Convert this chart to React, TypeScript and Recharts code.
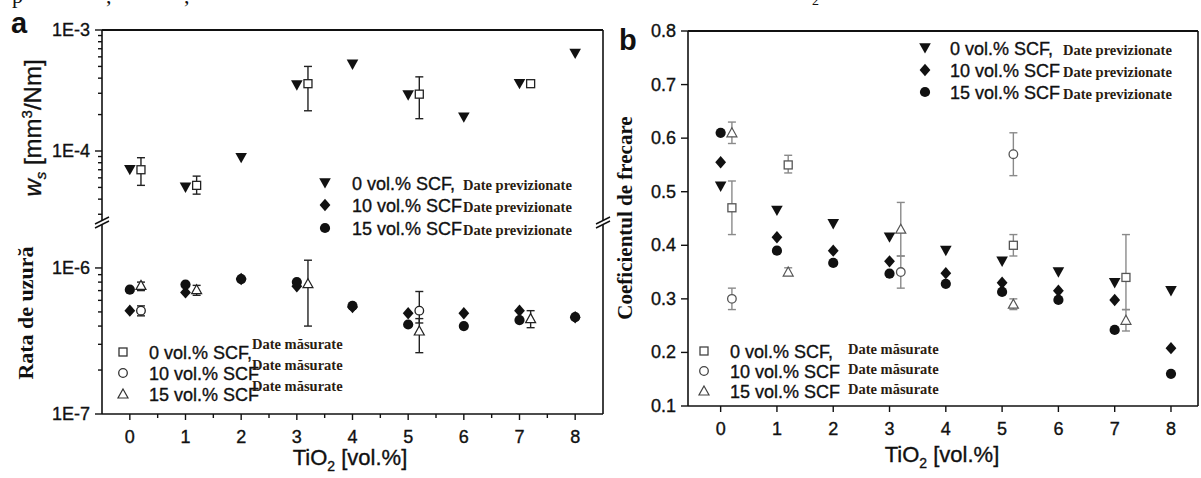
import React from 'react';
import { ScatterChart, Scatter, XAxis, YAxis, ErrorBar } from 'recharts';

const SANS = '"Liberation Sans", Arial, Helvetica, sans-serif';
const SERIF = '"Liberation Serif", "Times New Roman", serif';
const INK = '#111';

// ---------- data ----------
const tio2 = [0, 1, 2, 3, 4, 5, 6, 7, 8];

// panel a, upper part: specific wear rate ws (0 vol.% SCF)
const wsPred0 = [7.0e-5, 5.0e-5, 8.8e-5, 3.5e-4, 5.2e-4, 2.9e-4, 1.9e-4, 3.6e-4, 6.4e-4];
const wsMeasX0 = [0, 1, 3, 5, 7];
const wsMeas0 = [7.0e-5, 5.2e-5, 3.6e-4, 2.95e-4, 3.6e-4];
const wsMeas0Lo = [5.2e-5, 4.4e-5, 2.15e-4, 1.85e-4, null];
const wsMeas0Hi = [8.8e-5, 6.2e-5, 5.0e-4, 4.1e-4, null];

// panel a, lower part: wear rate (10 and 15 vol.% SCF)
const wrPred10 = [5.1e-7, 6.8e-7, 8.4e-7, 7.5e-7, 5.4e-7, 4.9e-7, 4.9e-7, 5.1e-7, 4.6e-7];
const wrPred15 = [7.1e-7, 7.7e-7, 8.4e-7, 8.0e-7, 5.5e-7, 4.1e-7, 4.0e-7, 4.4e-7, 4.6e-7];
const wrMeasX10 = [0, 5];
const wrMeas10 = [5.1e-7, 5.1e-7];
const wrMeas10Lo = [4.7e-7, 4.2e-7];
const wrMeas10Hi = [5.5e-7, 6.9e-7];
const wrMeasX15 = [0, 1, 3, 5, 7];
const wrMeas15 = [7.6e-7, 7.1e-7, 7.8e-7, 3.7e-7, 4.5e-7];
const wrMeas15Lo = [7.0e-7, 6.5e-7, 4.0e-7, 2.63e-7, 3.9e-7];
const wrMeas15Hi = [8.0e-7, 7.6e-7, 1.13e-6, 4.5e-7, 5.1e-7];

// panel b: coefficient of friction
const cofPred0 = [0.51, 0.465, 0.44, 0.415, 0.39, 0.37, 0.35, 0.33, 0.315];
const cofPred10 = [0.555, 0.415, 0.39, 0.37, 0.348, 0.33, 0.315, 0.298, 0.208];
const cofPred15 = [0.61, 0.39, 0.367, 0.347, 0.328, 0.313, 0.298, 0.242, 0.16];
const cofMeasX0 = [0, 1, 5, 7];
const cofMeas0 = [0.47, 0.55, 0.4, 0.34];
const cofMeas0Lo = [0.42, 0.535, 0.38, 0.28];
const cofMeas0Hi = [0.52, 0.568, 0.42, 0.42];
const cofMeasX10 = [0, 3, 5];
const cofMeas10 = [0.3, 0.35, 0.57];
const cofMeas10Lo = [0.28, 0.32, 0.53];
const cofMeas10Hi = [0.32, 0.38, 0.61];
const cofMeasX15 = [0, 1, 3, 5, 7];
const cofMeas15 = [0.61, 0.35, 0.43, 0.29, 0.26];
const cofMeas15Lo = [0.59, 0.345, 0.38, 0.28, 0.24];
const cofMeas15Hi = [0.63, 0.358, 0.48, 0.3, 0.28];

// axis ticks
const wsMajor = [1e-4, 1e-3];
const wsTicks = [3e-5, 4e-5, 5e-5, 6e-5, 7e-5, 8e-5, 9e-5, 1e-4, 2e-4, 3e-4, 4e-4, 5e-4, 6e-4, 7e-4, 8e-4, 9e-4, 1e-3];
const wrMajor = [1e-7, 1e-6];
const wrTicks = [1e-7, 2e-7, 3e-7, 4e-7, 5e-7, 6e-7, 7e-7, 8e-7, 9e-7, 1e-6];
const wsLabels: Record<string, string> = { '0.001': '1E-3', '0.0001': '1E-4' };
const wrLabels: Record<string, string> = { '1e-7': '1E-7', '0.000001': '1E-6' };
const xTicksA = [0, 0.5, 1, 1.5, 2, 2.5, 3, 3.5, 4, 4.5, 5, 5.5, 6, 6.5, 7, 7.5, 8];
const cofTicks = [0.1, 0.2, 0.3, 0.4, 0.5, 0.6, 0.7, 0.8];

const MEAS_SHIFT = 0.2;

type Pt = { x: number; y: number; err?: [number, number] };
const pts = (xs: number[], ys: number[]): Pt[] => xs.map((x, i) => ({ x, y: ys[i] }));
const meas = (xs: number[], ys: number[], lo: (number | null)[], hi: (number | null)[]): Pt[] =>
  xs.map((x, i) => {
    const l = lo[i];
    const h = hi[i];
    const p: Pt = { x: x + MEAS_SHIFT, y: ys[i] };
    if (l != null && h != null) p.err = [ys[i] - l, h - ys[i]];
    return p;
  });

// ---------- markers ----------
function Mark({ kind, cx, cy, stroke = '#222' }: { kind: string; cx: number; cy: number; stroke?: string }) {
  if (cx == null || cy == null || isNaN(cx) || isNaN(cy)) return null;
  switch (kind) {
    case 'tri':
      return <polygon points={`${cx - 5.8},${cy - 4.8} ${cx + 5.8},${cy - 4.8} ${cx},${cy + 5.6}`} fill={INK} />;
    case 'dia':
      return <polygon points={`${cx},${cy - 6.2} ${cx + 5.4},${cy} ${cx},${cy + 6.2} ${cx - 5.4},${cy}`} fill={INK} />;
    case 'dot':
      return <circle cx={cx} cy={cy} r={5.1} fill={INK} />;
    case 'sq':
      return <rect x={cx - 4} y={cy - 4} width={8} height={8} fill="#fff" stroke={stroke} strokeWidth={1.3} />;
    case 'circ':
      return <circle cx={cx} cy={cy} r={4.3} fill="#fff" stroke={stroke} strokeWidth={1.3} />;
    case 'tup':
      return <polygon points={`${cx},${cy - 5} ${cx + 5},${cy + 4} ${cx - 5},${cy + 4}`} fill="#fff" stroke={stroke} strokeWidth={1.2} />;
    default:
      return null;
  }
}
const shape = (kind: string, stroke?: string) => (p: any) => <Mark kind={kind} cx={p.cx} cy={p.cy} stroke={stroke} />;

// ---------- ticks ----------
const heavy = { stroke: INK, strokeWidth: 0.35 };
const logTick = (major: number[], labels: Record<string, string>) => (p: any) => {
  const v = p.payload.value;
  const isMajor = major.some((m) => Math.abs(m - v) / m < 1e-6);
  const lab = isMajor ? labels[String(v)] ?? v.toExponential(0).toUpperCase() : '';
  return (
    <g>
      <line x1={p.x - (isMajor ? 7 : 4)} x2={p.x} y1={p.y} y2={p.y} stroke={INK} strokeWidth={1.4} />
      {isMajor && (
        <text x={p.x - 12} y={p.y + 6} textAnchor="end" fontFamily={SANS} fontSize={18} fill={INK} {...heavy}>
          {lab}
        </text>
      )}
    </g>
  );
};
const linTick = (p: any) => (
  <g>
    <line x1={p.x - 7} x2={p.x} y1={p.y} y2={p.y} stroke={INK} strokeWidth={1.4} />
    <text x={p.x - 12} y={p.y + 6} textAnchor="end" fontFamily={SANS} fontSize={18} fill={INK} {...heavy}>
      {Number(p.payload.value).toFixed(1)}
    </text>
  </g>
);
const xTick = (p: any) => {
  const v = p.payload.value;
  const isMajor = Math.abs(v - Math.round(v)) < 1e-6;
  return (
    <g>
      <line x1={p.x} x2={p.x} y1={p.y} y2={p.y + (isMajor ? 6 : 4)} stroke={INK} strokeWidth={1.4} />
      {isMajor && (
        <text x={p.x} y={p.y + 29} textAnchor="middle" fontFamily={SANS} fontSize={18} fill={INK} {...heavy}>
          {v}
        </text>
      )}
    </g>
  );
};

// ---------- legend ----------
function LegendRow({ kind, mx, tx, dx, cy, label, note, noteDy, mainSize = 18, noteSize = 14.5, stroke }: any) {
  return (
    <g>
      <Mark kind={kind} cx={mx} cy={cy} stroke={stroke} />
      <text x={tx} y={cy + 6.5} fontFamily={SANS} fontSize={mainSize} fill={INK} {...heavy}>
        {label}
      </text>
      <text x={dx} y={cy + noteDy} fontFamily={SERIF} fontWeight="bold" fontSize={noteSize} fill="#2a1c10">
        {note}
      </text>
    </g>
  );
}

const BreakMark = ({ x, y }: { x: number; y: number }) => (
  <g stroke={INK} strokeWidth={1.4}>
    <line x1={x - 7} y1={y + 2} x2={x + 7} y2={y - 5} />
    <line x1={x - 7} y1={y + 6} x2={x + 7} y2={y - 1} />
  </g>
);

const axisLine = { stroke: INK, strokeWidth: 1.6 };

export default function App() {
  const aTopPred0 = pts(tio2, wsPred0);
  const aTopMeas0 = meas(wsMeasX0, wsMeas0, wsMeas0Lo, wsMeas0Hi);
  const aBotPred10 = pts(tio2, wrPred10);
  const aBotPred15 = pts(tio2, wrPred15);
  const aBotMeas10 = meas(wrMeasX10, wrMeas10, wrMeas10Lo, wrMeas10Hi);
  const aBotMeas15 = meas(wrMeasX15, wrMeas15, wrMeas15Lo, wrMeas15Hi);
  const bPred0 = pts(tio2, cofPred0);
  const bPred10 = pts(tio2, cofPred10);
  const bPred15 = pts(tio2, cofPred15);
  const bMeas0 = meas(cofMeasX0, cofMeas0, cofMeas0Lo, cofMeas0Hi);
  const bMeas10 = meas(cofMeasX10, cofMeas10, cofMeas10Lo, cofMeas10Hi);
  const bMeas15 = meas(cofMeasX15, cofMeas15, cofMeas15Lo, cofMeas15Hi);

  const greyEB = '#8a8a8a';
  const greyMk = '#555';

  return (
    <div style={{ position: 'fixed', left: 0, top: 0, width: 1201, height: 478, background: '#fff', overflow: 'hidden' }}>
      {/* panel a, upper part */}
      <div style={{ position: 'absolute', left: 0, top: 0 }}>
        <ScatterChart width={620} height={220} margin={{ top: 30, right: 17, bottom: 0, left: 0 }}>
          <XAxis type="number" dataKey="x" domain={[-0.5, 8.5]} hide />
          <YAxis
            type="number"
            dataKey="y"
            scale="log"
            domain={[2.69e-5, 1e-3]}
            allowDataOverflow
            ticks={wsTicks}
            interval={0}
            width={102}
            tickSize={0}
            tickMargin={0}
            tickLine={false}
            axisLine={axisLine}
            tick={logTick(wsMajor, wsLabels)}
          />
          <Scatter data={aTopPred0} isAnimationActive={false} shape={shape('tri')} />
          <Scatter data={aTopMeas0} isAnimationActive={false} shape={shape('sq')}>
            <ErrorBar dataKey="err" direction="y" width={4} stroke="#222" strokeWidth={1.4} />
          </Scatter>
        </ScatterChart>
      </div>

      {/* panel a, lower part */}
      <div style={{ position: 'absolute', left: 0, top: 224 }}>
        <ScatterChart width={620} height={254} margin={{ top: 0, right: 17, bottom: 0, left: 0 }}>
          <XAxis
            type="number"
            dataKey="x"
            domain={[-0.5, 8.5]}
            ticks={xTicksA}
            interval={0}
            height={64}
            tickSize={0}
            tickMargin={0}
            tickLine={false}
            axisLine={axisLine}
            tick={xTick}
          />
          <YAxis
            type="number"
            dataKey="y"
            scale="log"
            domain={[1e-7, 2e-6]}
            allowDataOverflow
            ticks={wrTicks}
            interval={0}
            width={102}
            tickSize={0}
            tickMargin={0}
            tickLine={false}
            axisLine={axisLine}
            tick={logTick(wrMajor, wrLabels)}
          />
          <Scatter data={aBotPred10} isAnimationActive={false} shape={shape('dia')} />
          <Scatter data={aBotPred15} isAnimationActive={false} shape={shape('dot')} />
          <Scatter data={aBotMeas10} isAnimationActive={false} shape={shape('circ')}>
            <ErrorBar dataKey="err" direction="y" width={4} stroke="#222" strokeWidth={1.4} />
          </Scatter>
          <Scatter data={aBotMeas15} isAnimationActive={false} shape={shape('tup')}>
            <ErrorBar dataKey="err" direction="y" width={4} stroke="#222" strokeWidth={1.4} />
          </Scatter>
        </ScatterChart>
      </div>

      {/* panel b */}
      <div style={{ position: 'absolute', left: 600, top: 0 }}>
        <ScatterChart width={601} height={478} margin={{ top: 31, right: 3, bottom: 0, left: 0 }}>
          <XAxis
            type="number"
            dataKey="x"
            domain={[-0.58, 8.48]}
            ticks={tio2}
            interval={0}
            height={72}
            tickSize={0}
            tickMargin={0}
            tickLine={false}
            axisLine={axisLine}
            tick={xTick}
          />
          <YAxis
            type="number"
            dataKey="y"
            domain={[0.1, 0.8]}
            allowDataOverflow
            ticks={cofTicks}
            interval={0}
            width={88}
            tickSize={0}
            tickMargin={0}
            tickLine={false}
            axisLine={axisLine}
            tick={linTick}
          />
          <Scatter data={bPred0} isAnimationActive={false} shape={shape('tri')} />
          <Scatter data={bPred10} isAnimationActive={false} shape={shape('dia')} />
          <Scatter data={bPred15} isAnimationActive={false} shape={shape('dot')} />
          <Scatter data={bMeas0} isAnimationActive={false} shape={shape('sq', greyMk)}>
            <ErrorBar dataKey="err" direction="y" width={4} stroke={greyEB} strokeWidth={1.4} />
          </Scatter>
          <Scatter data={bMeas10} isAnimationActive={false} shape={shape('circ', greyMk)}>
            <ErrorBar dataKey="err" direction="y" width={4} stroke={greyEB} strokeWidth={1.4} />
          </Scatter>
          <Scatter data={bMeas15} isAnimationActive={false} shape={shape('tup', greyMk)}>
            <ErrorBar dataKey="err" direction="y" width={4} stroke={greyEB} strokeWidth={1.4} />
          </Scatter>
        </ScatterChart>
      </div>

      {/* frames, breaks, titles, legends */}
      <svg width={1201} height={478} style={{ position: 'absolute', left: 0, top: 0, pointerEvents: 'none' }}>
        {/* cropped caption remnants (cut off at the top edge, as in the reference) */}
        <text x={12} y={3} fontFamily={SERIF} fontSize={22} fill={INK}>p</text>
        <text x={106} y={3} fontFamily={SERIF} fontSize={22} fill={INK}>,</text>
        <text x={184} y={3} fontFamily={SERIF} fontSize={22} fill={INK}>,</text>
        <text x={812} y={5} fontFamily={SERIF} fontSize={14} fill={INK}>2</text>

        {/* panel a frame */}
        <line x1={102} y1={30} x2={603} y2={30} stroke={INK} strokeWidth={1.8} />
        <line x1={603} y1={30} x2={603} y2={220} stroke={INK} strokeWidth={1.6} />
        <line x1={603} y1={224} x2={603} y2={414} stroke={INK} strokeWidth={1.6} />
        <BreakMark x={102} y={222} />
        <BreakMark x={603} y={222} />

        {/* panel b frame */}
        <line x1={688} y1={31} x2={1198} y2={31} stroke={INK} strokeWidth={1.8} />
        <line x1={1198} y1={31} x2={1198} y2={406} stroke={INK} strokeWidth={1.6} />

        {/* panel letters */}
        <text x={11} y={33} fontFamily={SANS} fontWeight="bold" fontSize={29} fill={INK}>a</text>
        <text x={619} y={50} fontFamily={SANS} fontWeight="bold" fontSize={29} fill={INK}>b</text>

        {/* y titles */}
        <text transform="translate(41,128) rotate(-90)" textAnchor="middle" fontFamily={SANS} fontSize={24} fill={INK} {...heavy}>
          <tspan fontStyle="italic">w</tspan>
          <tspan fontStyle="italic" fontSize={15} dy={5}>s</tspan>
          <tspan dy={-5}> [mm</tspan>
          <tspan fontSize={15} dy={-9}>3</tspan>
          <tspan dy={9}>/Nm]</tspan>
        </text>
        <text transform="translate(33,313) rotate(-90)" textAnchor="middle" fontFamily={SERIF} fontWeight="bold" fontSize={22} fill={INK}>
          Rata de uzură
        </text>
        <text transform="translate(632,218) rotate(-90)" textAnchor="middle" fontFamily={SERIF} fontWeight="bold" fontSize={21} fill={INK}>
          Coeficientul de frecare
        </text>

        {/* x titles */}
        <text x={350} y={465} textAnchor="middle" fontFamily={SANS} fontSize={22} fill={INK} {...heavy}>
          TiO<tspan fontSize={14} dy={6}>2</tspan>
          <tspan dy={-6}> [vol.%]</tspan>
        </text>
        <text x={942} y={462} textAnchor="middle" fontFamily={SANS} fontSize={22} fill={INK} {...heavy}>
          TiO<tspan fontSize={14} dy={6}>2</tspan>
          <tspan dy={-6}> [vol.%]</tspan>
        </text>

        {/* panel a legends */}
        <LegendRow kind="tri" mx={325} tx={352} dx={463} cy={183} label="0 vol.% SCF," note="Date previzionate" noteDy={6.5} />
        <LegendRow kind="dia" mx={325} tx={352} dx={463} cy={205} label="10 vol.% SCF" note="Date previzionate" noteDy={6.5} />
        <LegendRow kind="dot" mx={325} tx={352} dx={463} cy={228} label="15 vol.% SCF" note="Date previzionate" noteDy={6.5} />

        <LegendRow kind="sq" mx={123} tx={149} dx={252} cy={352} label="0 vol.% SCF," note="Date măsurate" noteDy={-3} stroke="#333" />
        <LegendRow kind="circ" mx={123} tx={149} dx={252} cy={373} label="10 vol.% SCF" note="Date măsurate" noteDy={-3} stroke="#333" />
        <LegendRow kind="tup" mx={123} tx={149} dx={252} cy={394} label="15 vol.% SCF" note="Date măsurate" noteDy={-3} stroke="#333" />

        {/* panel b legends */}
        <LegendRow kind="tri" mx={925} tx={950} dx={1063} cy={48} label="0 vol.% SCF," note="Date previzionate" noteDy={6.5} />
        <LegendRow kind="dia" mx={925} tx={950} dx={1063} cy={70} label="10 vol.% SCF" note="Date previzionate" noteDy={6.5} />
        <LegendRow kind="dot" mx={925} tx={950} dx={1063} cy={92} label="15 vol.% SCF" note="Date previzionate" noteDy={6.5} />

        <LegendRow kind="sq" mx={704} tx={730} dx={848} cy={351} label="0 vol.% SCF," note="Date măsurate" noteDy={3} stroke="#444" />
        <LegendRow kind="circ" mx={704} tx={730} dx={848} cy={371} label="10 vol.% SCF" note="Date măsurate" noteDy={3} stroke="#444" />
        <LegendRow kind="tup" mx={704} tx={730} dx={848} cy={391} label="15 vol.% SCF" note="Date măsurate" noteDy={3} stroke="#444" />
      </svg>
    </div>
  );
}
